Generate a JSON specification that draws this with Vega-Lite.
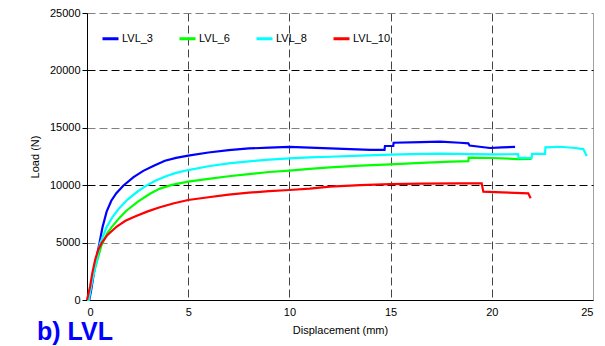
{
  "$schema": "https://vega.github.io/schema/vega-lite/v6.json",
  "width": 506,
  "height": 287,
  "autosize": {"type": "none"},
  "padding": {"left": 87, "top": 13, "right": 12, "bottom": 46},
  "background": "white",
  "config": {"view": {"stroke": null}, "font": "Liberation Sans"},
  "title": {"text": "b) LVL", "orient": "bottom", "anchor": "start", "frame": "group", "dx": -50, "dy": -15, "offset": 0, "fontSize": 25, "fontWeight": "bold", "color": "#0000ff", "font": "Liberation Sans"},
  "data": {"values": [
    {"series": "LVL_3", "x": 0, "y": 0}, {"series": "LVL_3", "x": 0.11, "y": 0}, {"series": "LVL_3", "x": 0.2, "y": 800}, {"series": "LVL_3", "x": 0.3, "y": 1900}, {"series": "LVL_3", "x": 0.45, "y": 3480}, {"series": "LVL_3", "x": 0.62, "y": 5000}, {"series": "LVL_3", "x": 0.76, "y": 6300}, {"series": "LVL_3", "x": 0.97, "y": 7700}, {"series": "LVL_3", "x": 1.2, "y": 8650}, {"series": "LVL_3", "x": 1.45, "y": 9300}, {"series": "LVL_3", "x": 1.79, "y": 9950}, {"series": "LVL_3", "x": 2.3, "y": 10700}, {"series": "LVL_3", "x": 2.78, "y": 11250}, {"series": "LVL_3", "x": 3.3, "y": 11700}, {"series": "LVL_3", "x": 3.85, "y": 12130}, {"series": "LVL_3", "x": 4.4, "y": 12380}, {"series": "LVL_3", "x": 5, "y": 12570}, {"series": "LVL_3", "x": 6, "y": 12850}, {"series": "LVL_3", "x": 7, "y": 13050}, {"series": "LVL_3", "x": 8, "y": 13200}, {"series": "LVL_3", "x": 9, "y": 13280}, {"series": "LVL_3", "x": 10, "y": 13330}, {"series": "LVL_3", "x": 11, "y": 13280}, {"series": "LVL_3", "x": 12, "y": 13210}, {"series": "LVL_3", "x": 13, "y": 13140}, {"series": "LVL_3", "x": 14, "y": 13070}, {"series": "LVL_3", "x": 14.7, "y": 13070}, {"series": "LVL_3", "x": 14.72, "y": 13415}, {"series": "LVL_3", "x": 15.13, "y": 13415}, {"series": "LVL_3", "x": 15.15, "y": 13700}, {"series": "LVL_3", "x": 16.5, "y": 13760}, {"series": "LVL_3", "x": 17.44, "y": 13790}, {"series": "LVL_3", "x": 18.43, "y": 13700}, {"series": "LVL_3", "x": 18.84, "y": 13650}, {"series": "LVL_3", "x": 18.9, "y": 13450}, {"series": "LVL_3", "x": 19.5, "y": 13330}, {"series": "LVL_3", "x": 19.91, "y": 13240}, {"series": "LVL_3", "x": 20.5, "y": 13290}, {"series": "LVL_3", "x": 21.15, "y": 13330},
    {"series": "LVL_6", "x": 0, "y": 0}, {"series": "LVL_6", "x": 0.08, "y": 0}, {"series": "LVL_6", "x": 0.25, "y": 1800}, {"series": "LVL_6", "x": 0.51, "y": 3480}, {"series": "LVL_6", "x": 0.72, "y": 4800}, {"series": "LVL_6", "x": 1.0, "y": 5800}, {"series": "LVL_6", "x": 1.22, "y": 6350}, {"series": "LVL_6", "x": 1.6, "y": 7150}, {"series": "LVL_6", "x": 1.96, "y": 7800}, {"series": "LVL_6", "x": 2.5, "y": 8550}, {"series": "LVL_6", "x": 3.11, "y": 9250}, {"series": "LVL_6", "x": 3.6, "y": 9700}, {"series": "LVL_6", "x": 4.2, "y": 10030}, {"series": "LVL_6", "x": 5, "y": 10310}, {"series": "LVL_6", "x": 6, "y": 10550}, {"series": "LVL_6", "x": 7, "y": 10780}, {"series": "LVL_6", "x": 8, "y": 10970}, {"series": "LVL_6", "x": 9, "y": 11150}, {"series": "LVL_6", "x": 10, "y": 11270}, {"series": "LVL_6", "x": 11, "y": 11420}, {"series": "LVL_6", "x": 12, "y": 11560}, {"series": "LVL_6", "x": 13.5, "y": 11700}, {"series": "LVL_6", "x": 15, "y": 11820}, {"series": "LVL_6", "x": 16.5, "y": 11950}, {"series": "LVL_6", "x": 18, "y": 12050}, {"series": "LVL_6", "x": 18.84, "y": 12100}, {"series": "LVL_6", "x": 18.86, "y": 12400}, {"series": "LVL_6", "x": 20, "y": 12370}, {"series": "LVL_6", "x": 21.3, "y": 12280}, {"series": "LVL_6", "x": 21.97, "y": 12300},
    {"series": "LVL_8", "x": 0, "y": 0}, {"series": "LVL_8", "x": 0.08, "y": 0}, {"series": "LVL_8", "x": 0.25, "y": 1600}, {"series": "LVL_8", "x": 0.48, "y": 3480}, {"series": "LVL_8", "x": 0.64, "y": 4900}, {"series": "LVL_8", "x": 0.97, "y": 6350}, {"series": "LVL_8", "x": 1.25, "y": 7200}, {"series": "LVL_8", "x": 1.55, "y": 7900}, {"series": "LVL_8", "x": 2.0, "y": 8750}, {"series": "LVL_8", "x": 2.5, "y": 9450}, {"series": "LVL_8", "x": 2.95, "y": 9980}, {"series": "LVL_8", "x": 3.4, "y": 10400}, {"series": "LVL_8", "x": 3.9, "y": 10780}, {"series": "LVL_8", "x": 4.4, "y": 11070}, {"series": "LVL_8", "x": 5, "y": 11320}, {"series": "LVL_8", "x": 6, "y": 11650}, {"series": "LVL_8", "x": 7, "y": 11900}, {"series": "LVL_8", "x": 8, "y": 12080}, {"series": "LVL_8", "x": 9, "y": 12220}, {"series": "LVL_8", "x": 10, "y": 12340}, {"series": "LVL_8", "x": 11, "y": 12420}, {"series": "LVL_8", "x": 12, "y": 12480}, {"series": "LVL_8", "x": 13.5, "y": 12580}, {"series": "LVL_8", "x": 15, "y": 12660}, {"series": "LVL_8", "x": 16, "y": 12700}, {"series": "LVL_8", "x": 17.44, "y": 12745}, {"series": "LVL_8", "x": 19, "y": 12710}, {"series": "LVL_8", "x": 20, "y": 12690}, {"series": "LVL_8", "x": 21.3, "y": 12700}, {"series": "LVL_8", "x": 21.32, "y": 12400}, {"series": "LVL_8", "x": 21.97, "y": 12370}, {"series": "LVL_8", "x": 21.99, "y": 12720}, {"series": "LVL_8", "x": 22.63, "y": 12720}, {"series": "LVL_8", "x": 22.65, "y": 13300}, {"series": "LVL_8", "x": 23.37, "y": 13350}, {"series": "LVL_8", "x": 24.0, "y": 13260}, {"series": "LVL_8", "x": 24.52, "y": 13150}, {"series": "LVL_8", "x": 24.69, "y": 12540},
    {"series": "LVL_10", "x": 0, "y": 0}, {"series": "LVL_10", "x": 0.15, "y": 1160}, {"series": "LVL_10", "x": 0.26, "y": 2320}, {"series": "LVL_10", "x": 0.4, "y": 3480}, {"series": "LVL_10", "x": 0.55, "y": 4350}, {"series": "LVL_10", "x": 0.72, "y": 4950}, {"series": "LVL_10", "x": 1.0, "y": 5650}, {"series": "LVL_10", "x": 1.47, "y": 6400}, {"series": "LVL_10", "x": 1.9, "y": 6900}, {"series": "LVL_10", "x": 2.37, "y": 7280}, {"series": "LVL_10", "x": 3.0, "y": 7720}, {"series": "LVL_10", "x": 3.6, "y": 8080}, {"series": "LVL_10", "x": 4.3, "y": 8430}, {"series": "LVL_10", "x": 5, "y": 8710}, {"series": "LVL_10", "x": 6, "y": 8950}, {"series": "LVL_10", "x": 7, "y": 9180}, {"series": "LVL_10", "x": 8, "y": 9350}, {"series": "LVL_10", "x": 9, "y": 9480}, {"series": "LVL_10", "x": 10, "y": 9580}, {"series": "LVL_10", "x": 11, "y": 9700}, {"series": "LVL_10", "x": 12, "y": 9870}, {"series": "LVL_10", "x": 13.5, "y": 10000}, {"series": "LVL_10", "x": 15, "y": 10100}, {"series": "LVL_10", "x": 16.5, "y": 10130}, {"series": "LVL_10", "x": 18.4, "y": 10160}, {"series": "LVL_10", "x": 19.5, "y": 10160}, {"series": "LVL_10", "x": 19.58, "y": 9440}, {"series": "LVL_10", "x": 20.5, "y": 9380}, {"series": "LVL_10", "x": 21.8, "y": 9290}, {"series": "LVL_10", "x": 21.92, "y": 8860}
  ]},
  "mark": {"type": "line", "strokeWidth": 2.2},
  "encoding": {
    "x": {"field": "x", "type": "quantitative", "scale": {"domain": [0, 25], "nice": false},
      "axis": {"values": [0, 5, 10, 15, 20, 25], "title": "Displacement (mm)", "grid": true,
        "gridColor": {"condition": {"test": "datum.value === 25", "value": "#a0a0a0"}, "value": "#444444"},
        "gridDash": {"condition": {"test": "datum.value === 25", "value": []}, "value": [8, 4]},
        "domainColor": "black", "ticks": false, "labelPadding": 6, "labelFontSize": 11, "labelColor": "black",
        "titleFontSize": 11, "titleFontWeight": "normal", "titleColor": "black", "titlePadding": 7}},
    "y": {"field": "y", "type": "quantitative", "scale": {"domain": [0, 25000], "nice": false},
      "axis": {"values": [0, 5000, 10000, 15000, 20000, 25000], "format": "d", "title": "Load (N)", "grid": true,
        "gridColor": {"condition": {"test": "datum.value === 10000 || datum.value === 20000", "value": "#000000"}, "value": "#808080"},
        "gridDash": [8, 4], "domainColor": "black", "tickColor": "black", "tickSize": 5, "labelPadding": 2,
        "labelFontSize": 11, "labelColor": "black", "titleFontSize": 11, "titleFontWeight": "normal", "titleColor": "black", "titlePadding": 9}},
    "color": {"field": "series", "type": "nominal",
      "scale": {"domain": ["LVL_3", "LVL_6", "LVL_8", "LVL_10"], "range": ["#0000ff", "#00ff00", "#00ffff", "#ff0000"]},
      "legend": {"orient": "none", "legendX": 14, "legendY": 16, "direction": "horizontal", "columns": 4, "title": null,
        "symbolType": "stroke", "symbolSize": 256, "symbolStrokeWidth": 3, "labelFontSize": 11, "labelColor": "black",
        "columnPadding": 20, "labelOffset": 2, "padding": 0}}
  }
}
